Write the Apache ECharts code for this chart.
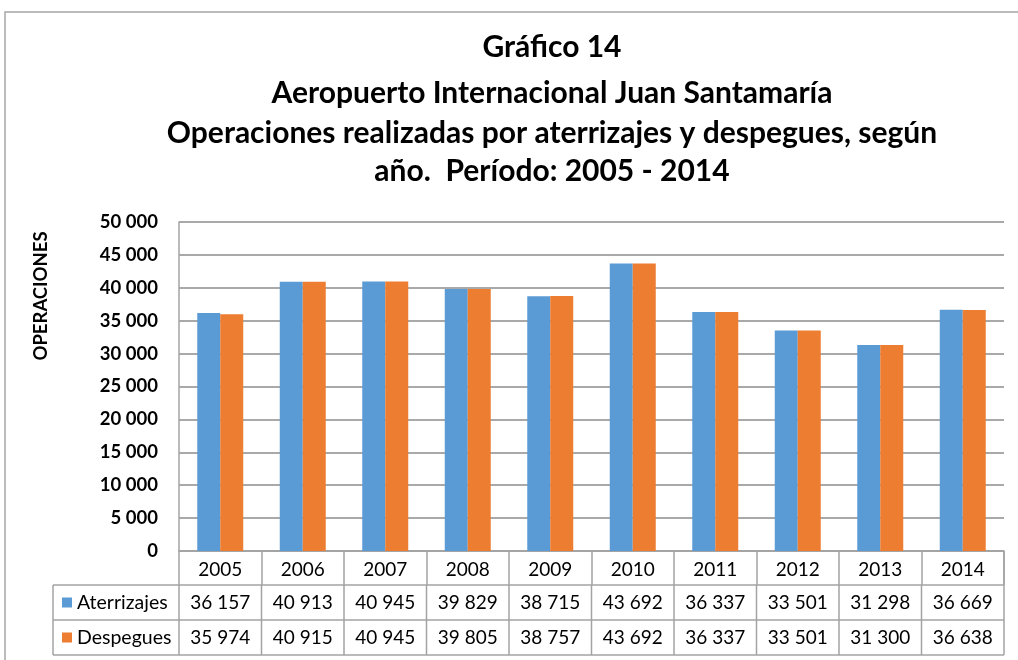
<!DOCTYPE html>
<html>
<head>
<meta charset="utf-8">
<script src="https://cdn.jsdelivr.net/npm/echarts@6/dist/echarts.min.js"></script>
<style>
html, body { margin: 0; padding: 0; background: #fff; }
#main { width: 1018px; height: 660px; }
</style>
</head>
<body>
<div id="main"></div>
<script>
// datos del grafico
var years = ['2005', '2006', '2007', '2008', '2009', '2010', '2011', '2012', '2013', '2014'];
var aterrizajes = [36157, 40913, 40945, 39829, 38715, 43692, 36337, 33501, 31298, 36669];
var despegues = [35974, 40915, 40945, 39805, 38757, 43692, 36337, 33501, 31300, 36638];
var seriesNames = ['Aterrizajes', 'Despegues'];
var colors = ['#5B9BD5', '#ED7D31'];
var yMax = 50000;
var yStep = 5000;
var titleLines = [
	'Gráfico 14',
	'Aeropuerto Internacional Juan Santamaría',
	'Operaciones realizadas por aterrizajes y despegues, según',
	'año.  Período: 2005 - 2014'
];
var yName = 'OPERACIONES';

var FONT = 'Lato';
var LINE = '#A3A3A3';

function fmt(v) {
	return String(v).replace(/\B(?=(\d{3})+(?!\d))/g, ' ');
}

var myChart = echarts.init(document.getElementById('main'));

var option = {
	animation: false,
	textStyle: { fontFamily: FONT },
	grid: { left: 179, right: 14, top: 222, bottom: 109 },
	xAxis: {
		type: 'category',
		data: years,
		axisLine: { lineStyle: { color: LINE, width: 1.5 } },
		axisTick: { show: true, length: 34, lineStyle: { color: LINE, width: 1.5 } },
		axisLabel: { color: '#000', fontSize: 19, fontFamily: FONT, margin: 9 }
	},
	yAxis: {
		type: 'value',
		min: 0,
		max: yMax,
		interval: yStep,
		axisLine: { show: true, lineStyle: { color: LINE, width: 1.5 } },
		axisTick: { show: false },
		splitLine: { lineStyle: { color: '#8C8C8C', width: 1.5 } },
		axisLabel: { color: '#000', fontSize: 18.5, fontWeight: 'bold', fontFamily: FONT, margin: 21, formatter: fmt }
	},
	series: [
		{ name: seriesNames[0], type: 'bar', data: aterrizajes, barWidth: 23, barGap: '0%', itemStyle: { color: colors[0] } },
		{ name: seriesNames[1], type: 'bar', data: despegues, barWidth: 23, barGap: '0%', itemStyle: { color: colors[1] } }
	]
};
myChart.setOption(option);

// tabla de datos y titulos
var graphics = [];
var base = myChart.convertToPixel({ yAxisIndex: 0 }, 0);
var rowTop = [base, 585, 620, 655];
var tableLeft = 53;
var plotLeft = 179;
var plotRight = 1004;
var step = (plotRight - plotLeft) / years.length;

// marco exterior
graphics.push({ type: 'rect', shape: { x: 5, y: 12, width: 1100, height: 700 }, style: { fill: null, stroke: '#A6A6A6', lineWidth: 1.5 }, silent: true });

// titulo
var titleY = [47, 93, 133, 171];
titleLines.forEach(function (t, i) {
	graphics.push({ type: 'text', x: 552, y: titleY[i], style: { text: t, fill: '#000', font: 'bold 30px ' + FONT, textAlign: 'center', textVerticalAlign: 'middle' } });
});

// nombre del eje
graphics.push({ type: 'text', x: 41, y: 296, rotation: Math.PI / 2, style: { text: yName, fill: '#000', font: 'bold 18.5px ' + FONT, textAlign: 'center', textVerticalAlign: 'middle' } });

// lineas horizontales
[1, 2, 3].forEach(function (r) {
	graphics.push({ type: 'line', shape: { x1: tableLeft, y1: rowTop[r], x2: plotRight, y2: rowTop[r] }, style: { stroke: LINE, lineWidth: 1.5 } });
});
// lineas verticales
graphics.push({ type: 'line', shape: { x1: tableLeft, y1: rowTop[1], x2: tableLeft, y2: rowTop[3] }, style: { stroke: LINE, lineWidth: 1.5 } });
for (var k = 0; k <= years.length; k++) {
	var xx = plotLeft + k * step;
	graphics.push({ type: 'line', shape: { x1: xx, y1: rowTop[1], x2: xx, y2: rowTop[3] }, style: { stroke: LINE, lineWidth: 1.5 } });
}
graphics.push({ type: 'line', shape: { x1: plotRight, y1: rowTop[0], x2: plotRight, y2: rowTop[1] }, style: { stroke: LINE, lineWidth: 1.5 } });

// filas de la tabla
[aterrizajes, despegues].forEach(function (arr, r) {
	var cy = (rowTop[r + 1] + rowTop[r + 2]) / 2;
	graphics.push({ type: 'rect', shape: { x: 62, y: cy - 5, width: 10, height: 10 }, style: { fill: colors[r] } });
	graphics.push({ type: 'text', x: 77, y: cy, style: { text: seriesNames[r], fill: '#000', font: '19.5px ' + FONT, textVerticalAlign: 'middle' } });
	arr.forEach(function (v, i) {
		var cx = myChart.convertToPixel({ xAxisIndex: 0 }, i);
		graphics.push({ type: 'text', x: cx, y: cy, style: { text: fmt(v), fill: '#000', font: '19px ' + FONT, textAlign: 'center', textVerticalAlign: 'middle' } });
	});
});

myChart.setOption({ graphic: graphics });
</script>
</body>
</html>
